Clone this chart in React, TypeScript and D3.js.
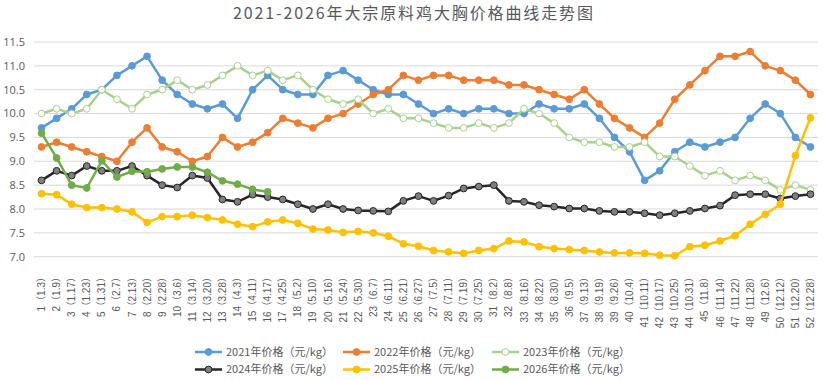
import React from "react";
import * as d3 from "d3";

const weeks: string[] = [
  "1（1.3）", "2（1.9）", "3（1.17）", "4（1.23）", "5（1.31）", "6（2.7）", "7（2.13）", "8（2.20）", "9（2.28）", "10（3.6）",
  "11（3.14）", "12（3.20）", "13（3.28）", "14（4.3）", "15（4.11）", "16（4.17）", "17（4.25）", "18（5.2）", "19（5.10）", "20（5.16）",
  "21（5.24）", "22（5.30）", "23（6.7）", "24（6.11）", "25（6.21）", "26（6.27）", "27（7.5）", "28（7.11）", "29（7.19）", "30（7.25）",
  "31（8.2）", "32（8.8）", "33（8.16）", "34（8.22）", "35（8.30）", "36（9.5）", "37（9.13）", "38（9.19）", "39（9.26）", "40（10.4）",
  "41（10.11）", "42（10.17）", "43（10.25）", "44（10.31）", "45（11.8）", "46（11.14）", "47（11.22）", "48（11.28）", "49（12.6）", "50（12.12）",
  "51（12.20）", "52（12.28）",
];

const p2021: number[] = [
  9.7, 9.9, 10.1, 10.4, 10.5, 10.8, 11.0, 11.2, 10.7, 10.4,
  10.2, 10.1, 10.2, 9.9, 10.5, 10.8, 10.5, 10.4, 10.4, 10.8,
  10.9, 10.7, 10.5, 10.4, 10.4, 10.2, 10.0, 10.1, 10.0, 10.1,
  10.1, 10.0, 10.0, 10.2, 10.1, 10.1, 10.2, 9.9, 9.5, 9.2,
  8.6, 8.8, 9.2, 9.4, 9.3, 9.4, 9.5, 9.9, 10.2, 10.0, 9.5, 9.3,
];
const p2022: number[] = [
  9.3, 9.4, 9.3, 9.2, 9.1, 9.0, 9.4, 9.7, 9.3, 9.2,
  9.0, 9.1, 9.5, 9.3, 9.4, 9.6, 9.9, 9.8, 9.7, 9.9,
  10.0, 10.2, 10.4, 10.5, 10.8, 10.7, 10.8, 10.8, 10.7, 10.7,
  10.7, 10.6, 10.6, 10.5, 10.4, 10.3, 10.5, 10.2, 9.9, 9.7,
  9.5, 9.8, 10.3, 10.6, 10.9, 11.2, 11.2, 11.3, 11.0, 10.9, 10.7, 10.4,
];
const p2023: number[] = [
  10.0, 10.1, 10.0, 10.1, 10.5, 10.3, 10.1, 10.4, 10.5, 10.7,
  10.5, 10.6, 10.8, 11.0, 10.8, 10.9, 10.7, 10.8, 10.5, 10.3,
  10.2, 10.3, 10.0, 10.1, 9.9, 9.9, 9.8, 9.7, 9.7, 9.8,
  9.7, 9.8, 10.1, 10.0, 9.8, 9.5, 9.4, 9.4, 9.3, 9.3,
  9.4, 9.1, 9.1, 8.9, 8.7, 8.8, 8.6, 8.7, 8.6, 8.4, 8.5, 8.4,
];
const p2024: number[] = [
  8.6, 8.8, 8.7, 8.9, 8.8, 8.8, 8.9, 8.7, 8.5, 8.45,
  8.7, 8.65, 8.2, 8.15, 8.3, 8.25, 8.2, 8.1, 8.0, 8.1,
  8.0, 7.97, 7.96, 7.95, 8.17, 8.27, 8.17, 8.28, 8.43, 8.47,
  8.5, 8.17, 8.15, 8.08, 8.05, 8.01, 8.01, 7.96, 7.94, 7.94,
  7.91, 7.87, 7.91, 7.96, 8.01, 8.07, 8.29, 8.31, 8.31, 8.22, 8.27, 8.31,
];
const p2025: number[] = [
  8.32, 8.3, 8.1, 8.03, 8.03, 8.0, 7.94, 7.72, 7.84, 7.84,
  7.87, 7.82, 7.77, 7.68, 7.63, 7.73, 7.77, 7.7, 7.58, 7.56,
  7.51, 7.53, 7.5, 7.43, 7.27, 7.22, 7.13, 7.1, 7.07, 7.13,
  7.17, 7.33, 7.31, 7.21, 7.17, 7.15, 7.13, 7.1, 7.08, 7.08,
  7.07, 7.03, 7.02, 7.21, 7.24, 7.33, 7.44, 7.68, 7.89, 8.1, 9.12, 9.91,
];
const p2026: number[] = [
  9.59, 9.07, 8.5, 8.44, 9.01, 8.67, 8.79, 8.78, 8.84, 8.88,
  8.88, 8.77, 8.59, 8.52, 8.41, 8.36,
];

const yTicks: number[] = [7.0, 7.5, 8.0, 8.5, 9.0, 9.5, 10.0, 10.5, 11.0, 11.5];

const seriesNames: string[] = [
  "2021年价格（元/kg）", "2022年价格（元/kg）", "2023年价格（元/kg）",
  "2024年价格（元/kg）", "2025年价格（元/kg）", "2026年价格（元/kg）",
];

const title = "2021-2026年大宗原料鸡大胸价格曲线走势图";

type Style = { line: string; fill: string; stroke: string };
const styles: Style[] = [
  { line: "#5B9BD5", fill: "#5B9BD5", stroke: "#5B9BD5" },
  { line: "#ED7D31", fill: "#ED7D31", stroke: "#ED7D31" },
  { line: "#A9D18E", fill: "#FFFFFF", stroke: "#A9D18E" },
  { line: "#262626", fill: "#7F7F7F", stroke: "#262626" },
  { line: "#FFC000", fill: "#FFC000", stroke: "#FFC000" },
  { line: "#70AD47", fill: "#70AD47", stroke: "#70AD47" },
];

const W = 829;
const H = 380;
const plotLeft = 34;
const plotRight = 818;
const plotTop = 42;
const plotBottom = 256.7;

export default function App() {
  const x = d3.scaleBand<string>().domain(weeks).range([plotLeft, plotRight]).padding(0);
  const cx = (i: number) => (x(weeks[i]) as number) + x.bandwidth() / 2;
  const y = d3.scaleLinear().domain([7, 11.5]).range([plotBottom, plotTop]);
  const allSeries = [p2021, p2022, p2023, p2024, p2025, p2026];
  const line = d3
    .line<number>()
    .x((_, i) => cx(i))
    .y((d) => y(d));

  const legendX = [195, 343, 492];
  const legendY = [352, 369.5];
  const gray = "#595959";

  return (
    <svg
      width={W}
      height={H}
      style={{ position: "absolute", left: 0, top: 0, background: "#fff" }}
    >
      <rect x={0} y={0} width={W} height={H} fill="#fff" />
      <text
        x={413}
        y={19}
        textAnchor="middle"
        fontFamily="'Noto Sans CJK SC', sans-serif"
        fontSize={16}
        fill={gray}
        textLength={360}
        lengthAdjust="spacing"
      >
        {title}
      </text>
      {yTicks.map((t) => (
        <g key={t}>
          <line x1={plotLeft} x2={plotRight} y1={y(t)} y2={y(t)} stroke="#D9D9D9" strokeWidth={1} />
          <text
            x={25}
            y={y(t)}
            dy="0.35em"
            textAnchor="end"
            fontFamily="'Open Sans', 'Liberation Sans', sans-serif"
            fontSize={11}
            fill={gray}
          >
            {d3.format(".1f")(t)}
          </text>
        </g>
      ))}
      {weeks.map((w, i) => (
        <text
          key={w}
          transform={`translate(${cx(i)},272) rotate(-90)`}
          dy="0.35em"
          textAnchor="end"
          fontFamily="'Liberation Sans', 'Noto Sans CJK SC', sans-serif"
          fontSize={10}
          fill={gray}
        >
          {w}
        </text>
      ))}
      {allSeries.map((s, si) => (
        <g key={si}>
          <path d={line(s) || ""} fill="none" stroke={styles[si].line} strokeWidth={2.5} strokeLinejoin="round" />
          {s.map((v, i) => (
            <circle
              key={i}
              cx={cx(i)}
              cy={y(v)}
              r={3.4}
              fill={styles[si].fill}
              stroke={styles[si].stroke}
              strokeWidth={1}
            />
          ))}
        </g>
      ))}
      {seriesNames.map((n, i) => {
        const lx = legendX[i % 3];
        const ly = legendY[Math.floor(i / 3)];
        return (
          <g key={n}>
            <line x1={lx} x2={lx + 27} y1={ly} y2={ly} stroke={styles[i].line} strokeWidth={2.5} />
            <circle cx={lx + 13.5} cy={ly} r={3.4} fill={styles[i].fill} stroke={styles[i].stroke} strokeWidth={1} />
            <text
              x={lx + 31}
              y={ly}
              dy="0.35em"
              fontFamily="'Noto Sans CJK SC', sans-serif"
              fontSize={11}
              fill={gray}
            >
              {n}
            </text>
          </g>
        );
      })}
    </svg>
  );
}
